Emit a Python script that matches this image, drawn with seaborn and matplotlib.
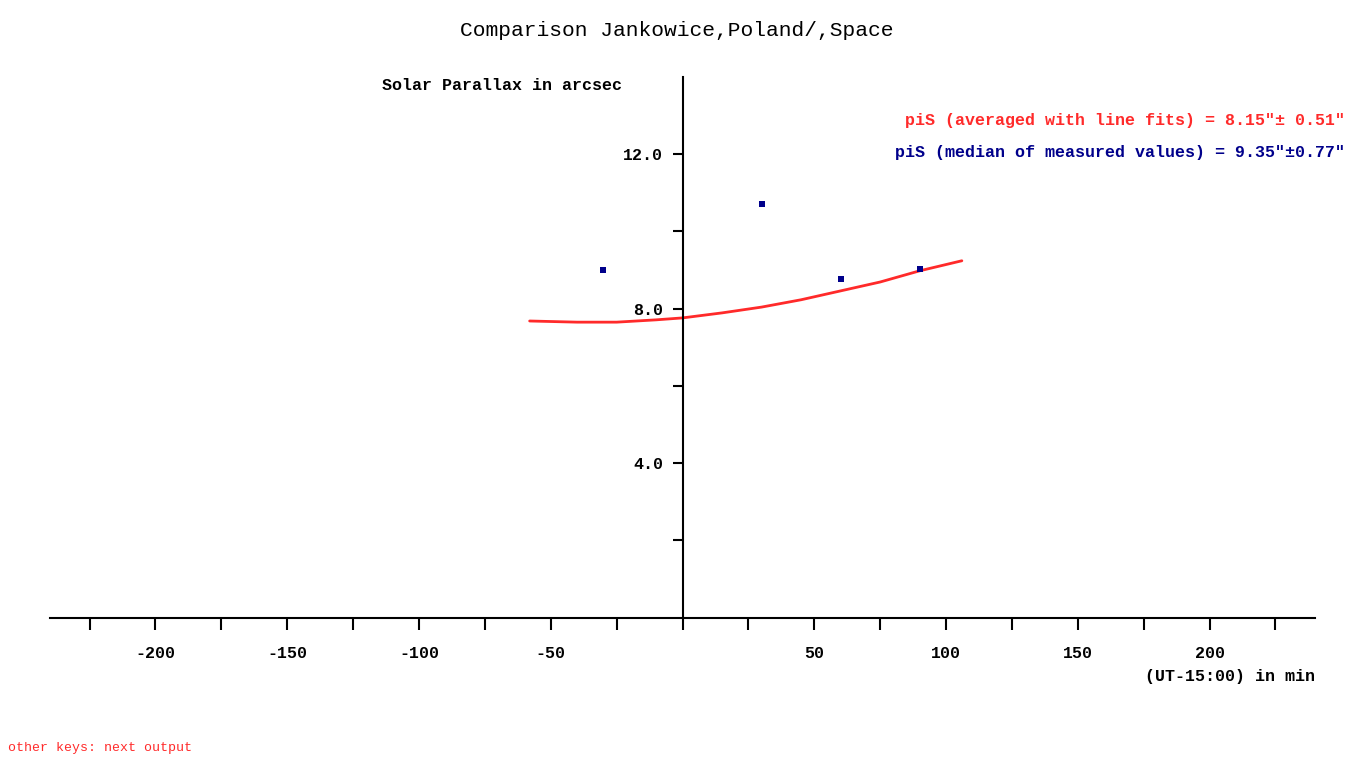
import numpy as np
import pandas as pd
import seaborn as sns
import matplotlib.pyplot as plt
from matplotlib.ticker import FixedLocator, FixedFormatter

# measured values (minutes from 15:00 UT, arcsec)
meas_t = [-30, 30, 60, 90]
meas_pi = [9.0, 10.7, 8.77, 9.03]

# averaged line-fit curve
fit_t = [-58, -40, -25, -10, 0, 15, 30, 45, 60, 75, 90, 106]
fit_pi = [7.68, 7.65, 7.65, 7.71, 7.76, 7.89, 8.04, 8.23, 8.46, 8.69, 8.98, 9.24]

x_ticks = list(range(-225, 250, 25))
x_ticklabels = [str(v) if (v % 50 == 0 and v != 0) else "" for v in x_ticks]
y_ticks = [2, 4, 6, 8, 10, 12]
y_ticklabels = ["", "4.0", "", "8.0", "", "12.0"]

title = "Comparison Jankowice,Poland/,Space"
red_txt = 'piS (averaged with line fits) = 8.15"\u00b1 0.51"'
blue_txt = 'piS (median of measured values) = 9.35"\u00b10.77"'

sns.set_style("white", {"text.color": "black", "xtick.color": "black",
                        "ytick.color": "black", "axes.labelcolor": "black"})
plt.rcParams['font.family'] = ['Liberation Mono', 'DejaVu Sans Mono']

RED = "#ff2a2a"
NAVY = "#00008b"

fig = plt.figure(figsize=(13.66, 7.68), dpi=100)
ax = fig.add_axes([50 / 1366, 1 - 617.5 / 768, 1265 / 1366, 540.5 / 768])

fit_df = pd.DataFrame({"t": fit_t, "pi": fit_pi})
meas_df = pd.DataFrame({"t": meas_t, "pi": meas_pi})
sns.lineplot(data=fit_df, x="t", y="pi", ax=ax, color=RED, lw=2, sort=False)
sns.scatterplot(data=meas_df, x="t", y="pi", ax=ax, color=NAVY, marker="s",
                s=16, edgecolor=NAVY, linewidth=0, zorder=5)

ax.set_xlim(-240, 240)
ax.set_ylim(0, 14)
ax.set_xlabel("")
ax.set_ylabel("")

ax.spines["top"].set_visible(False)
ax.spines["right"].set_visible(False)
ax.spines["left"].set_position(("data", 0))
for s in ("left", "bottom"):
    ax.spines[s].set_linewidth(1.5)
    ax.spines[s].set_color("black")

ax.xaxis.set_major_locator(FixedLocator(x_ticks))
ax.xaxis.set_major_formatter(FixedFormatter(x_ticklabels))
ax.yaxis.set_major_locator(FixedLocator(y_ticks))
ax.yaxis.set_major_formatter(FixedFormatter(y_ticklabels))
ax.tick_params(axis="x", direction="out", length=8.5, width=1.5, pad=12,
               labelsize=12, bottom=True, colors="black")
ax.tick_params(axis="y", direction="out", length=7, width=1.5, pad=7,
               labelsize=12, left=True, colors="black")
for lab in ax.get_xticklabels() + ax.get_yticklabels():
    lab.set_fontweight("bold")

fig.text(677 / 1366, 1 - 30 / 768, title, ha="center", va="center",
         fontsize=15.3, color="black")
fig.text(382 / 1366, 1 - 85 / 768, "Solar Parallax in arcsec", ha="left",
         va="center", fontsize=12, fontweight="bold", color="black")
fig.text(1345 / 1366, 1 - 120 / 768, red_txt, ha="right", va="center",
         fontsize=12, fontweight="bold", color=RED)
fig.text(1345 / 1366, 1 - 152 / 768, blue_txt, ha="right", va="center",
         fontsize=12, fontweight="bold", color=NAVY)
fig.text(1315 / 1366, 1 - 677 / 768, "(UT-15:00) in min", ha="right",
         va="center", fontsize=12, fontweight="bold", color="black")
fig.text(8 / 1366, 1 - 748 / 768, "other keys: next output", ha="left",
         va="center", fontsize=9.5, color=RED)

fig.savefig("out.png", dpi=100)
